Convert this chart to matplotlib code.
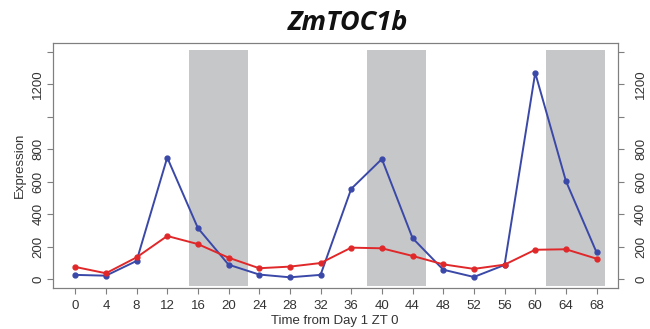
import matplotlib
matplotlib.use("Agg")
import matplotlib.pyplot as plt

hours = [0, 4, 8, 12, 16, 20, 24, 28, 32, 36, 40, 44, 48, 52, 56, 60, 64, 68]
blue_vals = [25, 20, 111, 749, 314, 88, 27, 10, 25, 556, 740, 252, 57, 12, 86, 1272, 605, 164]
red_vals = [74, 35, 133, 265, 215, 131, 66, 76, 98, 193, 189, 142, 90, 62, 88, 180, 183, 125]
dark_periods = [(14.9, 22.6), (38.1, 45.8), (61.4, 69.1)]
yticks = [0, 200, 400, 600, 800, 1000, 1200, 1400]
yticklabels = ["0", "200", "400", "600", "800", "", "1200", ""]

plt.rcParams['font.family'] = ['Liberation Sans', 'DejaVu Sans']

fig = plt.figure(figsize=(6.5, 3.29), dpi=100)
ax = fig.add_axes([53/650, 41/329, (618-53)/650, (288-43)/329])

for a, b in dark_periods:
    ax.fill_between([a, b], -42, 1415, color='#c6c7c9', linewidth=0, zorder=1)

ax.plot(hours, blue_vals, color='#3a48a8', lw=1.4, marker='o', ms=3.5, zorder=3)
ax.plot(hours, red_vals, color='#e0282a', lw=1.4, marker='o', ms=3.5, zorder=4)

ax.set_xlim(-2.9, 70.8)
ax.set_ylim(-56, 1456)
ax.set_xticks(hours)
ax.set_xticklabels([str(h) for h in hours])
ax.set_yticks(yticks)
ax.set_yticklabels(yticklabels, rotation=90, va='center')

axcol = '#7f7f7f'
for s in ax.spines.values():
    s.set_color(axcol)
    s.set_linewidth(0.8)

ax.tick_params(axis='x', length=4.3, width=0.8, color=axcol, labelsize=9.5,
               labelcolor='#333333', pad=4)
ax.tick_params(axis='y', length=4.3, width=0.8, color=axcol, labelsize=9.5,
               labelcolor='#333333', pad=2)

ax2 = ax.twinx()
ax2.set_ylim(ax.get_ylim())
ax2.set_yticks(yticks)
ax2.set_yticklabels(yticklabels, rotation=90, va='center')
ax2.tick_params(axis='y', length=4.3, width=0.8, color=axcol, labelsize=9.5,
                labelcolor='#333333', pad=8)
for s in ax2.spines.values():
    s.set_color(axcol)
    s.set_linewidth(0.8)

fig.text(20/650, 1 - 165/329, "Expression", rotation=90, ha='center', va='center',
         fontsize=9.5, color='#333333')
fig.text(335/650, 1 - 321/329, "Time from Day 1 ZT 0", ha='center', va='center',
         fontsize=9.5, color='#333333')
fig.text(348/650, 1 - 23/329, "ZmTOC1b", ha='center', va='center',
         fontsize=19.5, fontweight='bold', fontstyle='italic',
         family=['Open Sans', 'DejaVu Sans'], color='#111111')

fig.savefig("out.png", dpi=100)
